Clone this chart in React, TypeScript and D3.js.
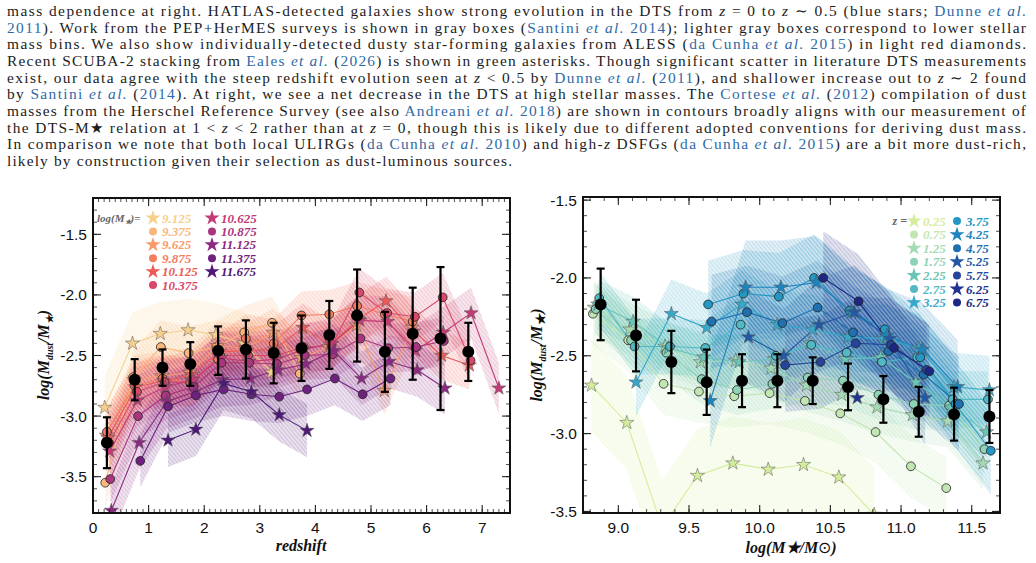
import React from 'react';
import * as d3 from 'd3';

// caption text above the figure, one entry per printed line
// style codes: i = italic, c = citation blue, ci = blue italic, sub = subscript
const paragraph: [string, string?][][] = [
  [['mass dependence at right. HATLAS-detected galaxies show strong evolution in the DTS from '], ['z', 'i'], [' = 0 to '], ['z', 'i'], [' ∼ 0.5 (blue stars; '], ['Dunne ', 'c'], ['et al.', 'ci']],
  [['2011', 'c'], ['). Work from the PEP+HerMES surveys is shown in gray boxes ('], ['Santini ', 'c'], ['et al.', 'ci'], [' 2014', 'c'], ['); lighter gray boxes correspond to lower stellar']],
  [['mass bins. We also show individually-detected dusty star-forming galaxies from ALESS ('], ['da Cunha ', 'c'], ['et al.', 'ci'], [' 2015', 'c'], [') in light red diamonds.']],
  [['Recent SCUBA-2 stacking from '], ['Eales ', 'c'], ['et al.', 'ci'], [' ('], ['2026', 'c'], [') is shown in green asterisks. Though significant scatter in literature DTS measurements']],
  [['exist, our data agree with the steep redshift evolution seen at '], ['z', 'i'], [' < 0.5 by '], ['Dunne ', 'c'], ['et al.', 'ci'], [' ('], ['2011', 'c'], ['), and shallower increase out to '], ['z', 'i'], [' ∼ 2 found']],
  [['by '], ['Santini ', 'c'], ['et al.', 'ci'], [' ('], ['2014', 'c'], ['). At right, we see a net decrease in the DTS at high stellar masses. The '], ['Cortese ', 'c'], ['et al.', 'ci'], [' ('], ['2012', 'c'], [') compilation of dust']],
  [['masses from the Herschel Reference Survey (see also '], ['Andreani ', 'c'], ['et al.', 'ci'], [' 2018', 'c'], [') are shown in contours broadly aligns with our measurement of']],
  [['the DTS-M★ relation at 1 < '], ['z', 'i'], [' < 2 rather than at '], ['z', 'i'], [' = 0, though this is likely due to different adopted conventions for deriving dust mass.']],
  [['In comparison we note that both local ULIRGs ('], ['da Cunha ', 'c'], ['et al.', 'ci'], [' 2010', 'c'], [') and high-'], ['z', 'i'], [' DSFGs ('], ['da Cunha ', 'c'], ['et al.', 'ci'], [' 2015', 'c'], [') are a bit more dust-rich,']],
  [['likely by construction given their selection as dust-luminous sources.']],
];

// ---- left panel: dust-to-stellar mass vs redshift, one series per mass bin ----
const zBins = [0.25, 0.75, 1.25, 1.75, 2.25, 2.75, 3.25, 3.75, 4.25, 4.75, 5.25, 5.75, 6.25, 6.75, 7.25];
const massLabels = ['9.125', '9.375', '9.625', '9.875', '10.125', '10.375', '10.625', '10.875', '11.125', '11.375', '11.675'];
const massOffsets = [-0.04, -0.03, -0.01, 0.0, 0.02, 0.04, 0.05, 0.06, 0.08, 0.1, 0.1];
const dtsByMass: (number | null)[][] = [
  [-2.93, -2.40, -2.32, -2.29, -2.33, -2.40, -2.64],
  [-3.55, -2.68, -2.43, -2.48, -2.43, -2.31, -2.23, -2.65],
  [-3.16, -2.70, -2.67, -2.64, -2.42, -2.44, -2.31, -2.52, -2.43, -2.25, -2.79, -2.27],
  [-3.13, -2.75, -2.69, -2.72, -2.53, -2.36, -2.40, -2.17, -2.16, -2.09, -2.16, -2.22],
  [-3.18, -2.76, -2.71, -2.66, -2.47, -2.46, -2.45, -2.27, -2.41, -2.20, -2.05, -2.30, -2.50, -2.58],
  [-3.22, -2.80, -2.72, -2.72, -2.50, -2.50, -2.50, -2.43, -2.42, -1.98, -2.15, -2.18, -2.02, -2.54],
  [-3.29, -2.87, -2.76, -2.70, -2.52, -2.55, -2.53, -2.45, -2.40, -2.21, -2.22, -2.46, -2.31, -2.15, -2.77],
  [-3.52, -3.00, -2.83, -2.76, -2.56, -2.56, -2.57, -2.50, -2.49, -2.36, -2.44, -2.43, -2.38],
  [-3.78, -3.22, -2.88, -2.80, -2.70, -2.69, -2.62, -2.57, -2.46, -2.69, -2.55, -2.62, -2.77],
  [null, -3.37, -2.92, -2.83, -2.78, -2.82, -2.84, -2.78, -2.69, -2.82, -2.69],
  [null, null, -3.20, -3.11, -2.73, -2.80, -2.99, -3.12],
];
const massBand = [0.26, 0.22, 0.2, 0.2, 0.2, 0.2, 0.21, 0.2, 0.22, 0.22, 0.22];
const zMedian = [-3.22, -2.70, -2.60, -2.57, -2.46, -2.45, -2.48, -2.44, -2.33, -2.17, -2.47, -2.32, -2.36, -2.47];
const zMedianErr = [0.21, 0.17, 0.15, 0.18, 0.2, 0.24, 0.25, 0.27, 0.28, 0.38, 0.33, 0.38, 0.59, 0.24];

// ---- right panel: dust-to-stellar mass vs stellar mass, one series per redshift bin ----
const massCenters = [8.875, 9.125, 9.375, 9.625, 9.875, 10.125, 10.375, 10.625, 10.875, 11.125, 11.375, 11.625];
const zLabels = ['0.25', '0.75', '1.25', '1.75', '2.25', '2.75', '3.25', '3.75', '4.25', '4.75', '5.25', '5.75', '6.25', '6.75'];
const zOffsets = [-0.065, -0.055, -0.045, -0.035, -0.02, -0.01, 0, 0.01, 0.025, 0.035, 0.045, 0.055, 0.065, 0.075];
const dtsByZ: (number | null)[][] = [
  [-2.69, -2.93, -3.60, -3.27, -3.19, -3.23, -3.20, -3.28, -3.52],
  [-2.23, -2.40, -2.68, -2.73, -2.76, -2.74, -2.79, -2.87, -2.99, -3.21, -3.35],
  [-2.19, -2.33, -2.44, -2.54, -2.53, -2.58, -2.69, -2.75, -2.83, -2.88, -2.92, -3.19],
  [-2.20, -2.40, -2.48, -2.65, -2.72, -2.68, -2.64, -2.66, -2.75, -2.81, -2.82, -3.10],
  [-2.17, -2.28, -2.45, -2.51, -2.54, -2.52, -2.42, -2.52, -2.51, -2.67, -2.83, -2.99],
  [-2.13, -2.44, -2.44, -2.45, -2.30, -2.50, -2.43, -2.48, -2.54, -2.51, -2.78, -2.78],
  [null, -2.67, -2.23, -2.32, -2.17, -2.30, -2.33, -2.38, -2.39, -2.45, -2.70, -2.72],
  [null, null, null, -2.17, -2.10, -2.12, -2.00, -2.21, -2.33, -2.51, -2.81, -3.11],
  [null, null, null, -2.79, -2.06, -2.06, -2.03, -2.22, -2.37, -2.46, -2.70],
  [null, null, null, -2.28, -2.22, -2.29, -2.19, -2.35, -2.47, -2.62, -2.81],
  [null, null, null, null, -2.38, -2.50, -2.30, -2.22, -2.39, -2.77],
  [null, null, null, null, null, -2.56, -2.54, -2.42, -2.43, -2.59],
  [null, null, null, null, null, null, null, -2.77],
  [null, null, null, null, null, null, -2.00, -2.15, -2.45, -2.60],
];
const zBand = [0.3, 0.2, 0.17, 0.16, 0.16, 0.18, 0.22, 0.28, 0.3, 0.3, 0.3, 0.3, 0.1, 0.3];
const massMedian = [-2.17, -2.37, -2.54, -2.67, -2.66, -2.66, -2.66, -2.70, -2.78, -2.86, -2.875, -2.89];
const massMedianErr = [0.23, 0.23, 0.2, 0.21, 0.17, 0.17, 0.15, 0.15, 0.15, 0.16, 0.17, 0.17];

const massColors = ['#f6cf8c', '#fbb67c', '#f99a6a', '#f47d5e', '#ec5a57', '#d94868', '#c23b77', '#a9357e', '#8c2a82', '#6f2180', '#4e1877'];
const zColors = ['#d4ed9c', '#c1e6b1', '#a5dbb4', '#8dd3b7', '#6cc6b8', '#50b9c5', '#36a8c9', '#2498c4', '#1e84bd', '#1f6fb1', '#2458a5', '#25449a', '#23328f', '#1d2682'];

const BLUE = '#2f6aa6';
const SERIF = 'Liberation Serif';
const SANS = 'Liberation Sans';

const starPath = (size: number) => d3.symbol(d3.symbolStar, size)() as string;
const STAR = starPath(62);
const LEG_STAR = starPath(70);

const xL = d3.scaleLinear().domain([0, 7.5]).range([93, 510]);
const yL = d3.scaleLinear().domain([-3.8, -1.2]).range([513, 198]);
const xR = d3.scaleLinear().domain([8.75, 11.7]).range([583, 1000]);
const yR = d3.scaleLinear().domain([-3.51, -1.48]).range([513, 197]);

type Pt = [number, number];

function buildSeries(bins: number[], offsets: number[], values: (number | null)[][]) {
  return values.map((vals, i) =>
    vals
      .map((v, j) => (v == null ? null : ([bins[j] + offsets[i], v] as Pt)))
      .filter((p): p is Pt => p !== null)
  );
}

function Frame({ x, y, xMajor, xMinor, yMajor, yMinor, xFmt, yFmt }: any) {
  const [x0, x1] = x.range();
  const [yb, yt] = y.range();
  return (
    <g>
      <g stroke="#222" strokeWidth={0.8}>
        {xMinor.map((v: number, i: number) => (
          <g key={'xm' + i}>
            <line x1={x(v)} x2={x(v)} y1={yb} y2={yb - 4} />
            <line x1={x(v)} x2={x(v)} y1={yt} y2={yt + 4} />
          </g>
        ))}
        {yMinor.map((v: number, i: number) => (
          <g key={'ym' + i}>
            <line x1={x0} x2={x0 + 4} y1={y(v)} y2={y(v)} />
            <line x1={x1} x2={x1 - 4} y1={y(v)} y2={y(v)} />
          </g>
        ))}
      </g>
      <g stroke="#222" strokeWidth={1.1}>
        {xMajor.map((v: number, i: number) => (
          <g key={'xM' + i}>
            <line x1={x(v)} x2={x(v)} y1={yb} y2={yb - 8} />
            <line x1={x(v)} x2={x(v)} y1={yt} y2={yt + 8} />
          </g>
        ))}
        {yMajor.map((v: number, i: number) => (
          <g key={'yM' + i}>
            <line x1={x0} x2={x0 + 8} y1={y(v)} y2={y(v)} />
            <line x1={x1} x2={x1 - 8} y1={y(v)} y2={y(v)} />
          </g>
        ))}
      </g>
      <rect x={x0} y={yt} width={x1 - x0} height={yb - yt} fill="none" stroke="#111" strokeWidth={2} />
      <g fontFamily={SANS} fontSize={15.5} fill="#111">
        {xMajor.map((v: number, i: number) => (
          <text key={'xl' + i} x={x(v)} y={533} textAnchor="middle">{xFmt(v)}</text>
        ))}
        {yMajor.map((v: number, i: number) => (
          <text key={'yl' + i} x={x0 - 6} y={y(v)} dy="0.35em" textAnchor="end">{yFmt(v)}</text>
        ))}
      </g>
    </g>
  );
}

function Panel({ id, x, y, series, colors, bands, medX, med, err }: any) {
  const line = d3.line<Pt>().x((d) => x(d[0])).y((d) => y(d[1]));
  const [x0, x1] = x.range();
  const [yb, yt] = y.range();
  return (
    <g>
      <defs>
        <clipPath id={'clip-' + id}>
          <rect x={x0} y={yt} width={x1 - x0} height={yb - yt} />
        </clipPath>
        {colors.map((c: string, i: number) => (
          <pattern key={i} id={`hatch-${id}-${i}`} patternUnits="userSpaceOnUse" width={3} height={3} patternTransform="rotate(-40)">
            <line x1={0} y1={0} x2={0} y2={3} stroke={c} strokeWidth={0.9} />
          </pattern>
        ))}
      </defs>
      <g clipPath={`url(#clip-${id})`}>
        {series.map((pts: Pt[], i: number) => {
          const hw = bands[i];
          const area = d3.area<Pt>().x((d) => x(d[0])).y0((d) => y(d[1] - hw)).y1((d) => y(d[1] + hw));
          const d = area(pts) || '';
          return (
            <g key={'b' + i}>
              <path d={d} fill={colors[i]} fillOpacity={0.13} />
              <path d={d} fill={`url(#hatch-${id}-${i})`} opacity={0.35} />
            </g>
          );
        })}
        {series.map((pts: Pt[], i: number) => (
          <path key={'l' + i} d={line(pts) || ''} fill="none" stroke={colors[i]} strokeWidth={1.1} />
        ))}
        {series.map((pts: Pt[], i: number) =>
          pts.map((p, j) =>
            i % 2 === 0 ? (
              <path key={`m${i}-${j}`} d={STAR} transform={`translate(${x(p[0])},${y(p[1])})`} fill={colors[i]} stroke="#555" strokeWidth={0.5} />
            ) : (
              <circle key={`m${i}-${j}`} cx={x(p[0])} cy={y(p[1])} r={4.4} fill={colors[i]} stroke="#222" strokeWidth={0.8} />
            )
          )
        )}
        {med.map((v: number, i: number) => {
          const cx = x(medX[i]);
          const top = y(v + err[i]);
          const bot = y(v - err[i]);
          return (
            <g key={'md' + i} stroke="#000" strokeWidth={2.2}>
              <line x1={cx} x2={cx} y1={top} y2={bot} />
              <line x1={cx - 4} x2={cx + 4} y1={top} y2={top} />
              <line x1={cx - 4} x2={cx + 4} y1={bot} y2={bot} />
              <circle cx={cx} cy={y(v)} r={6} fill="#000" stroke="none" />
            </g>
          );
        })}
      </g>
    </g>
  );
}

function Legend({ title, labels, colors, x0, y0, cols, rowH, colW }: any) {
  return (
    <g fontFamily={SERIF} fontStyle="italic" fontWeight="bold" fontSize={13}>
      {title}
      {labels.map((lab: string, i: number) => {
        const col = i < cols[0] ? 0 : 1;
        const row = col === 0 ? i : i - cols[0];
        const mx = x0 + col * colW;
        const my = y0 + row * rowH;
        return (
          <g key={i}>
            {i % 2 === 0 ? (
              <path d={LEG_STAR} transform={`translate(${mx},${my})`} fill={colors[i]} />
            ) : (
              <circle cx={mx} cy={my} r={4} fill={colors[i]} />
            )}
            <text x={mx + 9} y={my} dy="0.35em" fill={colors[i]}>{lab}</text>
          </g>
        );
      })}
    </g>
  );
}

const minorRange = (a: number, b: number) => d3.range(Math.round(a * 10), Math.round(b * 10) + 1).map((k) => k / 10);

export default function App() {
  const leftSeries = buildSeries(zBins, massOffsets, dtsByMass);
  const rightSeries = buildSeries(massCenters, zOffsets, dtsByZ);
  return (
    <svg width={1036} height={563} style={{ position: 'absolute', left: 0, top: 0, background: '#fff' }}>
      <rect width={1036} height={563} fill="#fff" />
      <g fontFamily={SERIF} fontSize={15.4} fill="#1c1c1c">
        {paragraph.map((segs, i) => (
          <text key={i} x={7} y={16 + i * 16.65} textLength={i < 9 ? 1019 : 505} lengthAdjust="spacing">
            {segs.map(([t, s], j) => (
              <tspan
                key={j}
                fill={s === 'c' || s === 'ci' ? BLUE : undefined}
                fontStyle={s === 'i' || s === 'ci' ? 'italic' : undefined}
              >
                {t}
              </tspan>
            ))}
          </text>
        ))}
      </g>

      <Panel id="L" x={xL} y={yL} series={leftSeries} colors={massColors} bands={massBand} medX={zBins} med={zMedian} err={zMedianErr} />
      <Frame
        x={xL}
        y={yL}
        xMajor={d3.range(0, 8)}
        xMinor={minorRange(0, 7.5)}
        yMajor={[-3.5, -3.0, -2.5, -2.0, -1.5]}
        yMinor={minorRange(-3.8, -1.2)}
        xFmt={(v: number) => String(v)}
        yFmt={(v: number) => v.toFixed(1)}
      />
      <Legend
        title={
          <text x={97} y={218} dy="0.35em" fill="#666" fontSize={11}>
            log(M<tspan fontSize={7} dy={2.5}>★</tspan><tspan dy={-2.5}>)=</tspan>
          </text>
        }
        labels={massLabels}
        colors={massColors}
        x0={153}
        y0={218}
        cols={[6, 5]}
        rowH={13.4}
        colW={59}
      />

      <Panel id="R" x={xR} y={yR} series={rightSeries} colors={zColors} bands={zBand} medX={massCenters} med={massMedian} err={massMedianErr} />
      <Frame
        x={xR}
        y={yR}
        xMajor={[9.0, 9.5, 10.0, 10.5, 11.0, 11.5]}
        xMinor={minorRange(8.8, 11.7)}
        yMajor={[-3.5, -3.0, -2.5, -2.0, -1.5]}
        yMinor={minorRange(-3.5, -1.5)}
        xFmt={(v: number) => v.toFixed(1)}
        yFmt={(v: number) => v.toFixed(1)}
      />
      <Legend
        title={
          <text x={907} y={221} dy="0.35em" fill="#666" fontSize={12} textAnchor="end">z =</text>
        }
        labels={zLabels}
        colors={zColors}
        x0={914}
        y0={221}
        cols={[7, 7]}
        rowH={13.6}
        colW={43}
      />

      <g fontFamily={SERIF} fontStyle="italic" fontWeight="bold" fontSize={16} fill="#111">
        <text x={301} y={551} textAnchor="middle">redshift</text>
        <text x={791} y={553} textAnchor="middle">
          log(M★/M<tspan fontStyle="normal" fontWeight="normal">⊙</tspan>)
        </text>
        <text transform="translate(49,355) rotate(-90)" textAnchor="middle">
          log(M<tspan fontSize={10} dy={4}>dust</tspan><tspan dy={-4}>/M</tspan><tspan fontSize={10} dy={4}>★</tspan><tspan dy={-4}>)</tspan>
        </text>
        <text transform="translate(542,355) rotate(-90)" textAnchor="middle">
          log(M<tspan fontSize={10} dy={4}>dust</tspan><tspan dy={-4}>/M</tspan><tspan fontSize={13} dy={3}>★</tspan><tspan dy={-3}>)</tspan>
        </text>
      </g>
    </svg>
  );
}
